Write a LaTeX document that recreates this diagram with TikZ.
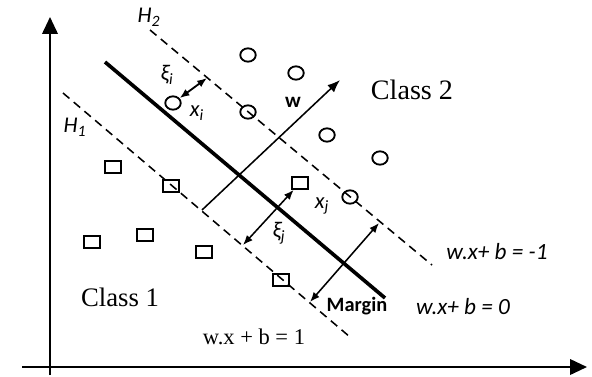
\documentclass[tikz,border=0pt]{standalone}
\usepackage{fontspec}
\setmainfont{Liberation Serif}
\setsansfont{Carlito}
\usetikzlibrary{arrows.meta,shapes.geometric}

\begin{document}
\begin{tikzpicture}[x=0.025cm,y=-0.025cm,>={Latex[length=7pt,width=5.5pt]},
  axis/.style={line width=1.4pt,-{Triangle[width=11pt,length=12pt]}},
  plane/.style={line width=1.1pt,dash pattern=on 6pt off 4pt},
  sep/.style={line width=2.6pt},
  class2/.style={draw,ellipse,line width=1.3pt,minimum width=11pt,minimum height=9.5pt,inner sep=0pt},
  class1/.style={draw,rectangle,line width=1.3pt,minimum width=11pt,minimum height=8.5pt,inner sep=0pt},
  lbl/.style={font=\sffamily\itshape\fontsize{16}{18}\selectfont},
  eqn/.style={font=\sffamily\itshape\fontsize{16.5}{19}\selectfont}]
  \useasboundingbox (0,0) rectangle (592,376);
  % axes
  \coordinate (O1) at (50,375);
  \coordinate (Y) at (50,17);
  \coordinate (O2) at (22,367);
  \coordinate (X) at (587,367);
  \draw[axis] (O1) -- (Y);
  \draw[axis] (O2) -- (X);
  % hyperplanes
  \coordinate (H2a) at (150,30);
  \coordinate (H2b) at (432,265);
  \coordinate (H0a) at (105,62);
  \coordinate (H0b) at (385,298);
  \coordinate (H1a) at (63,93);
  \coordinate (H1b) at (350,337);
  \draw[plane] (H2a) -- (H2b);
  \draw[sep] (H0a) -- (H0b);
  \draw[plane] (H1a) -- (H1b);
  % class 2 points
  \node[class2] (c1) at (173,103) {};
  \node[class2] (c2) at (248,55) {};
  \node[class2] (c3) at (296,73) {};
  \node[class2] (c4) at (248,112) {};
  \node[class2] (c5) at (327,135) {};
  \node[class2] (c6) at (380,158) {};
  \node[class2] (c7) at (350,197) {};
  % class 1 points
  \node[class1] (s1) at (113,167) {};
  \node[class1] (s2) at (171,186) {};
  \node[class1] (s3) at (145,235) {};
  \node[class1] (s4) at (92,242) {};
  \node[class1] (s5) at (204,252) {};
  \node[class1] (s6) at (281,280) {};
  \node[class1] (s7) at (300,183) {};
  % normal vector and margins
  \coordinate (w0) at (202,210);
  \coordinate (w1) at (340,80);
  \draw[line width=1.1pt,->,>={Latex[length=9pt,width=7pt]}] (w0) -- (w1);
  \coordinate (xi1) at (207,78);
  \draw[line width=1.3pt,<->] (c1) -- (xi1);
  \coordinate (xj1) at (243,245);
  \draw[line width=1.1pt,<->] (s7) -- (xj1);
  \coordinate (m1) at (310,302);
  \coordinate (m2) at (379,223);
  \draw[line width=1.1pt,<->] (m1) -- (m2);
  % labels
  \node[lbl] (lH2) at (149,17) {H\textsubscript{2}};
  \node[lbl] (lH1) at (75,127) {H\textsubscript{1}};
  \node[lbl] (lxi) at (167,75) {ξ\textsubscript{i}};
  \node[lbl] (lxii) at (197,113) {x\textsubscript{i}};
  \node[lbl] (lxj) at (322,206) {x\textsubscript{j}};
  \node[lbl] (lxij) at (279,233) {ξ\textsubscript{j}};
  \node[font=\sffamily\bfseries\fontsize{15}{17}\selectfont] (lw) at (293,102) {w};
  \node[font=\sffamily\bfseries\fontsize{14.5}{17}\selectfont] (lmargin) at (357,306) {Margin};
  \node[font=\fontsize{20}{24}\selectfont] (lc2) at (412,90) {Class 2};
  \node[font=\fontsize{19}{23}\selectfont] (lc1) at (120,297) {Class 1};
  \node[eqn] (e1) at (497,252) {w.x+ b = -1};
  \node[eqn] (e0) at (463,307) {w.x+ b = 0};
  \node[font=\fontsize{16}{19}\selectfont] (e2) at (254,337) {w.x + b = 1};
\end{tikzpicture}
\end{document}
